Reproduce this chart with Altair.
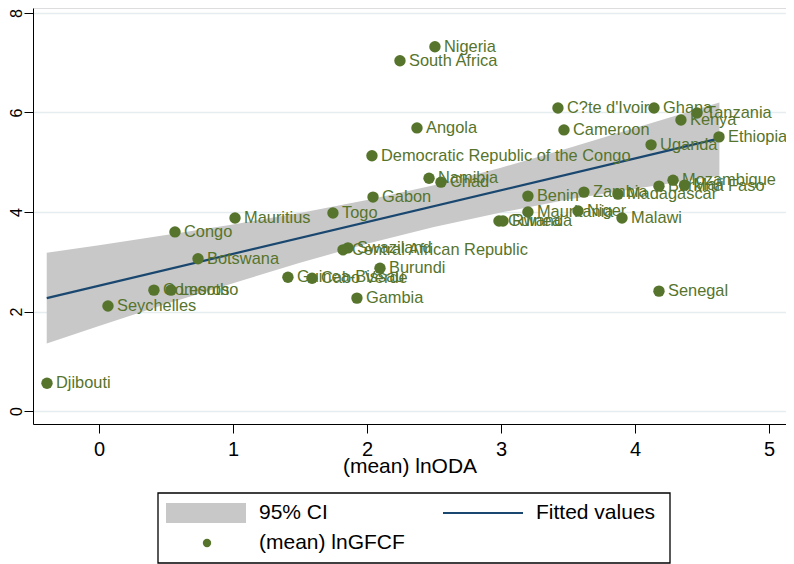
import altair as alt
import pandas as pd

# ---- data ----
countries = ["Nigeria", "South Africa", "C?te d'Ivoire", "Ghana", "Tanzania", "Kenya",
             "Ethiopia", "Angola", "Cameroon", "Uganda", "Democratic Republic of the Congo",
             "Namibia", "Chad", "Gabon", "Benin", "Zambia", "Madagascar", "Burkina Faso",
             "Mozambique", "Mali", "Malawi", "Niger", "Mauritania", "Guinea", "Rwanda",
             "Mauritius", "Togo", "Congo", "Botswana", "Swaziland", "Central African Republic",
             "Burundi", "Guinea-Bissau", "Cabo Verde", "Gambia", "Comoros", "Lesotho",
             "Seychelles", "Djibouti", "Senegal"]
ln_oda = [2.507, 2.246, 3.425, 4.142, 4.463, 4.343,
          4.627, 2.373, 3.470, 4.120, 2.037,
          2.463, 2.552, 2.045, 3.201, 3.619, 3.873, 4.179,
          4.284, 4.370, 3.903, 3.575, 3.201, 2.985, 3.015,
          1.015, 1.746, 0.567, 0.739, 1.858, 1.821,
          2.097, 1.410, 1.590, 1.925, 0.410, 0.537,
          0.067, -0.388, 4.179]
ln_gfcf = [7.32, 7.04, 6.09, 6.09, 5.99, 5.85,
           5.51, 5.69, 5.65, 5.35, 5.13,
           4.68, 4.60, 4.30, 4.32, 4.40, 4.36, 4.52,
           4.64, 4.54, 3.88, 4.02, 4.00, 3.82, 3.82,
           3.88, 3.98, 3.60, 3.06, 3.28, 3.24,
           2.87, 2.69, 2.67, 2.27, 2.43, 2.43,
           2.11, 0.56, 2.41]

ci_x = [-0.39, 0.0, 0.5, 1.0, 1.5, 2.0, 2.5, 3.0, 3.5, 4.0, 4.63]
ci_lo = [1.36, 1.71, 2.15, 2.57, 2.98, 3.36, 3.70, 3.99, 4.25, 4.47, 4.73]
ci_hi = [3.18, 3.33, 3.54, 3.75, 3.98, 4.24, 4.54, 4.89, 5.28, 5.69, 6.20]

fit_x = [-0.39, 4.63]
fit_y = [2.27, 5.48]

x_ticks = [0, 1, 2, 3, 4, 5]
y_ticks = [0, 2, 4, 6, 8]

legend_labels = ["95% CI", "Fitted values", "(mean) lnGFCF"]

# ---- styling ----
GREEN = "#56742c"
NAVY = "#1a476f"
GRAY = "#c8c8c8"
GRID = "#e6edf0"
FONT = "Liberation Sans"

W, H = 753, 416

xs = alt.Scale(domain=[-0.4925, 5.127], nice=False, zero=False)
ys = alt.Scale(domain=[-0.26, 8.10], nice=False, zero=False)

xaxis = alt.Axis(values=x_ticks, grid=False, tickSize=9, tickColor="black",
                 domainColor="black", labelFontSize=20, labelColor="black",
                 labelPadding=6, title="(mean) lnODA", titleFontSize=21,
                 titleFontWeight="normal", titleColor="black", titlePadding=-4,
                 labelFont=FONT, titleFont=FONT)
yaxis = alt.Axis(values=y_ticks, grid=True, gridColor=GRID, gridWidth=1.5,
                 tickSize=9, tickColor="black", domainColor="black",
                 labelAngle=270, labelAlign="center", labelBaseline="alphabetic",
                 labelFontSize=16, labelColor="black",
                 labelPadding=3, title=None, labelFont=FONT)

pts = pd.DataFrame({"country": countries, "x": ln_oda, "y": ln_gfcf})
band = pd.DataFrame({"x": ci_x, "lo": ci_lo, "hi": ci_hi})
fit = pd.DataFrame({"x": fit_x, "y": fit_y})

band_layer = alt.Chart(band).mark_area(color=GRAY, opacity=1).encode(
    x=alt.X("x:Q", scale=xs, axis=xaxis),
    y=alt.Y("lo:Q", scale=ys, axis=yaxis),
    y2="hi:Q",
)
fit_layer = alt.Chart(fit).mark_line(color=NAVY, strokeWidth=2.2).encode(
    x=alt.X("x:Q", scale=xs, axis=xaxis),
    y=alt.Y("y:Q", scale=ys, axis=yaxis),
)
pt_layer = alt.Chart(pts).mark_circle(color=GREEN, size=130, opacity=1).encode(
    x=alt.X("x:Q", scale=xs, axis=xaxis),
    y=alt.Y("y:Q", scale=ys, axis=yaxis),
)
lab_layer = alt.Chart(pts).mark_text(color=GREEN, align="left", baseline="middle",
                                     dx=9, fontSize=16.4, font=FONT).encode(
    x=alt.X("x:Q", scale=xs, axis=xaxis),
    y=alt.Y("y:Q", scale=ys, axis=yaxis),
    text="country:N",
)

# ---- legend box (drawn below the plot area) ----
one = pd.DataFrame({"k": [0]})
leg_box = alt.Chart(one).mark_rect(fillOpacity=0, stroke="black", strokeWidth=1.3).encode(
    x=alt.value(125), x2=alt.value(637), y=alt.value(485), y2=alt.value(555))
leg_ci = alt.Chart(one).mark_rect(color=GRAY).encode(
    x=alt.value(133), x2=alt.value(213), y=alt.value(495), y2=alt.value(515))
leg_line = alt.Chart(one).mark_rule(color=NAVY, strokeWidth=2.2).encode(
    x=alt.value(410), x2=alt.value(490), y=alt.value(505))
leg_dot = alt.Chart(one).mark_circle(color=GREEN, size=70, opacity=1).encode(
    x=alt.value(174), y=alt.value(535))
leg_t1 = alt.Chart(one).mark_text(align="left", baseline="middle", fontSize=21,
                                  font=FONT, color="black").encode(
    x=alt.value(226), y=alt.value(505), text=alt.value(legend_labels[0]))
leg_t2 = alt.Chart(one).mark_text(align="left", baseline="middle", fontSize=21,
                                  font=FONT, color="black").encode(
    x=alt.value(503), y=alt.value(505), text=alt.value(legend_labels[1]))
leg_t3 = alt.Chart(one).mark_text(align="left", baseline="middle", fontSize=21,
                                  font=FONT, color="black").encode(
    x=alt.value(226), y=alt.value(535), text=alt.value(legend_labels[2]))

chart = alt.layer(
    band_layer, fit_layer, pt_layer, lab_layer,
    leg_box, leg_ci, leg_line, leg_dot, leg_t1, leg_t2, leg_t3,
).properties(
    width=W, height=H,
    autosize=alt.AutoSizeParams(type="none"),
    padding={"left": 25, "top": 0, "right": 0, "bottom": 140},
    background="white",
).configure_view(stroke=None).configure(font=FONT)

chart.save("out.html", embed_options={"renderer": "svg", "actions": False})
